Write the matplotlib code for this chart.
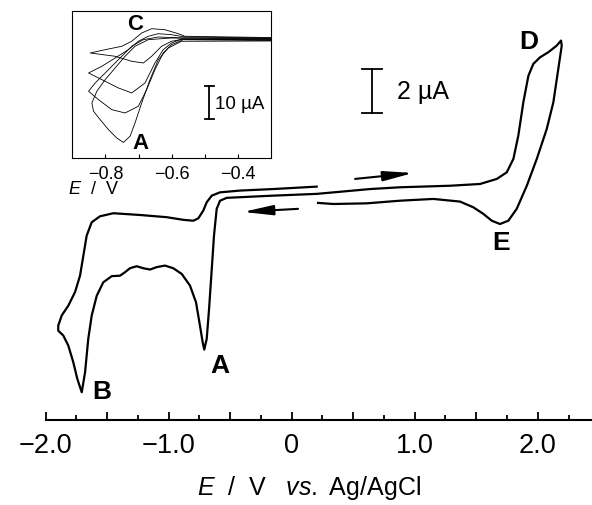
import matplotlib
matplotlib.use("Agg")
import matplotlib.pyplot as plt
from matplotlib.ticker import FixedLocator, FixedFormatter

plt.rcParams['font.family'] = ['Liberation Sans', 'DejaVu Sans']
plt.rcParams['mathtext.fontset'] = 'custom'
plt.rcParams['mathtext.rm'] = 'Liberation Sans'
plt.rcParams['mathtext.it'] = 'Liberation Sans:italic'

#=============main CV data (E in V vs Ag/AgCl, I in uA)====================

E_main = [0.203, -0.150, -0.420, -0.583, -0.650, -0.691, -0.719, -0.759, -0.800, -0.881,
          -1.016, -1.233, -1.450, -1.559, -1.626, -1.667, -1.694, -1.721, -1.762, -1.816,
          -1.870, -1.898, -1.898, -1.857, -1.816, -1.776, -1.743, -1.707, -1.680, -1.654,
          -1.626, -1.585, -1.532, -1.463, -1.396, -1.355, -1.315, -1.260, -1.207, -1.152,
          -1.098, -1.030, -0.963, -0.894, -0.827, -0.778, -0.746, -0.724, -0.711, -0.691,
          -0.672, -0.650, -0.632, -0.610, -0.583, -0.528, -0.150, 0.203, 0.637, 0.880,
          1.287, 1.531, 1.667, 1.748, 1.802, 1.842, 1.883, 1.924, 1.964, 2.019,
          2.086, 2.154, 2.189, 2.195, 2.167, 2.127, 2.073, 1.992, 1.911, 1.829,
          1.761, 1.693, 1.626, 1.558, 1.476, 1.368, 1.151, 0.880, 0.610, 0.338, 0.214]
I_main = [0.56, 0.45, 0.38, 0.30, 0.15, -0.15, -0.53, -0.88, -0.99, -0.95,
          -0.83, -0.73, -0.65, -0.79, -1.06, -1.67, -2.58, -3.49, -4.24, -4.85,
          -5.30, -5.76, -5.99, -6.21, -6.67, -7.42, -8.18, -8.79, -7.88, -6.36,
          -5.30, -4.40, -3.79, -3.51, -3.49, -3.33, -3.15, -3.06, -3.15, -3.21,
          -3.10, -3.03, -3.15, -3.41, -3.94, -4.70, -5.76, -6.51, -6.85, -6.36,
          -5.00, -3.18, -1.67, -0.45, -0.08, 0.05, 0.15, 0.23, 0.45, 0.53,
          0.60, 0.68, 0.91, 1.21, 1.82, 2.88, 4.40, 5.60, 6.14, 6.44,
          6.67, 6.97, 7.20, 6.97, 5.91, 4.40, 3.18, 1.82, 0.60, -0.45,
          -0.99, -1.14, -0.99, -0.68, -0.38, -0.12, 0.00, -0.08, -0.20, -0.23, -0.18]

tick_pos = [-2.0, -1.5, -1.0, -0.5, 0.0, 0.5, 1.0, 1.5, 2.0]
tick_lab = ['\u22122.0', '', '\u22121.0', '', '0', '', '1.0', '', '2.0']
minor_pos = [-1.75, -1.25, -0.75, -0.25, 0.25, 0.75, 1.25, 1.75, 2.25]

#=============inset data (4 scan rates)====================

E_in = [
    [-0.30, -0.571, -0.601, -0.631, -0.661, -0.686, -0.721, -0.771, -0.846,
     -0.801, -0.751, -0.721, -0.691, -0.661, -0.621, -0.581, -0.561, -0.30],
    [-0.30, -0.571, -0.601, -0.626, -0.651, -0.681, -0.721, -0.761, -0.801, -0.851,
     -0.811, -0.771, -0.731, -0.701, -0.671, -0.641, -0.601, -0.561, -0.30],
    [-0.30, -0.566, -0.601, -0.626, -0.651, -0.676, -0.701, -0.741, -0.781, -0.821, -0.851,
     -0.831, -0.791, -0.751, -0.721, -0.686, -0.641, -0.571, -0.30],
    [-0.30, -0.571, -0.611, -0.641, -0.666, -0.691, -0.711, -0.726, -0.746, -0.766,
     -0.791, -0.816, -0.836, -0.841,
     -0.826, -0.801, -0.771, -0.741, -0.711, -0.671, -0.601, -0.30],
]
I_in = [
    [-0.18, -0.15, -0.70, -2.23, -5.29, -7.34, -6.82, -5.29, -4.28,
     -3.27, -2.23, -0.70, 1.83, 3.15, 2.84, 1.62, 0.83, 0.43],
    [-0.31, 0.00, -1.22, -3.27, -7.34, -13.46, -16.51, -14.98, -12.94, -10.40,
     -8.35, -5.81, -3.27, -0.70, 0.83, 1.62, 1.31, 0.61, 0.31],
    [-0.46, -0.21, -1.74, -4.28, -9.39, -15.50, -20.58, -22.63, -21.62, -18.56, -15.99,
     -13.46, -9.39, -5.29, -2.23, -0.21, 0.61, 0.31, 0.15],
    [-0.61, -0.70, -2.75, -6.33, -12.45, -19.57, -25.69, -29.75, -31.65, -30.27,
     -27.74, -24.68, -22.11, -19.57,
     -15.99, -12.45, -8.87, -5.29, -2.23, -0.21, 0.31, 0.00],
]
inset_ticks = [-0.8, -0.7, -0.6, -0.5, -0.4]
inset_lab = ['\u22120.8', '', '\u22120.6', '', '\u22120.4']

#=============figure====================

fig = plt.figure(figsize=(5.92, 5.06), dpi=100)
ax = fig.add_axes([0.0772, 0.168, 0.9228, 0.832])
ax.plot(E_main, I_main, color='black', linewidth=1.6, solid_joinstyle='round')
ax.set_xlim(-2.0, 2.441)
ax.set_ylim(-10.05, 9.09)

for s in ['top', 'left', 'right']:
    ax.spines[s].set_visible(False)
ax.spines['bottom'].set_linewidth(1.5)
ax.set_yticks([])
ax.xaxis.set_major_locator(FixedLocator(tick_pos))
ax.xaxis.set_major_formatter(FixedFormatter(tick_lab))
ax.xaxis.set_minor_locator(FixedLocator(minor_pos))
ax.tick_params(axis='x', which='major', direction='in', length=6, width=1.3,
               labelsize=19.5, pad=9)
ax.tick_params(axis='x', which='minor', direction='in', length=3.5, width=1.3)
# x axis title, placed under the tick labels
fig.text(309 / 592, 1 - 488 / 506, r'$\mathit{E}$  /  V   $\mathit{vs.}$ Ag/AgCl',
         fontsize=18, ha='center', va='center')

# peak labels
ax.text(-0.581, -7.55, 'A', fontsize=19, fontweight='bold', ha='center', va='center')
ax.text(-1.542, -8.73, 'B', fontsize=19, fontweight='bold', ha='center', va='center')
ax.text(1.929, 7.18, 'D', fontsize=19, fontweight='bold', ha='center', va='center')
ax.text(1.702, -1.95, 'E', fontsize=19, fontweight='bold', ha='center', va='center')

# scan direction arrows
arr = dict(arrowstyle='-|>,head_length=0.9,head_width=0.15', color='black',
           lw=1.5, mutation_scale=20, shrinkA=0, shrinkB=0)
ax.annotate('', xy=(0.987, 1.18), xytext=(0.515, 0.91), arrowprops=arr)
ax.annotate('', xy=(-0.396, -0.59), xytext=(0.051, -0.45), arrowprops=arr)

# 2 uA scale bar
ax.plot([0.650, 0.650], [3.91, 5.91], color='black', lw=1.3)
ax.plot([0.569, 0.731], [5.91, 5.91], color='black', lw=1.3)
ax.plot([0.569, 0.731], [3.91, 3.91], color='black', lw=1.3)
ax.text(0.856, 4.91, '2 \u00b5A', fontsize=18, ha='left', va='center')

#=============inset====================

axi = fig.add_axes([0.1221, 0.6858, 0.3365, 0.2899])
for ex, iy in zip(E_in, I_in):
    axi.plot(ex, iy, color='black', linewidth=0.6)
axi.set_xlim(-0.9, -0.3)
axi.set_ylim(-36.4, 8.47)
axi.set_yticks([])
axi.set_xticks(inset_ticks)
axi.set_xticklabels(inset_lab)
axi.tick_params(axis='x', direction='in', length=3, width=0.8, labelsize=13, pad=5)
for s in axi.spines.values():
    s.set_linewidth(0.8)

axi.text(-0.712, 4.6, 'C', fontsize=16, fontweight='bold', ha='center', va='center')
axi.text(-0.694, -31.6, 'A', fontsize=16, fontweight='bold', ha='center', va='center')
axi.plot([-0.487, -0.487], [-24.46, -14.46], color='black', lw=1.3)
axi.plot([-0.5, -0.474], [-14.46, -14.46], color='black', lw=1.3)
axi.plot([-0.5, -0.474], [-24.46, -24.46], color='black', lw=1.3)
axi.text(-0.470, -19.6, '10 \u00b5A', fontsize=13.5, ha='left', va='center')
fig.text(68 / 592, 1 - 190 / 506, r'$\mathit{E}$  /  V', fontsize=13, ha='left', va='center')

fig.savefig('out.png', dpi=100)
